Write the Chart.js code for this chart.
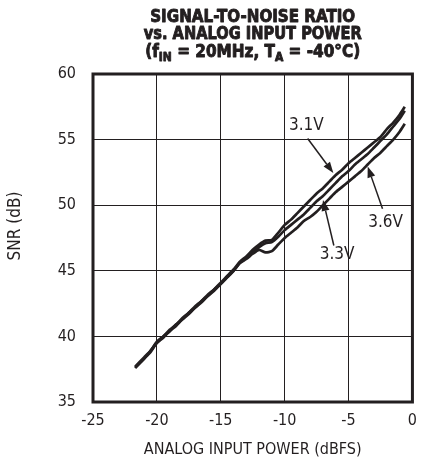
<!DOCTYPE html>
<html>
<head>
<meta charset="utf-8">
<script src="https://cdn.jsdelivr.net/npm/chart.js@4.4.1/dist/chart.umd.min.js"></script>
<style>
  html, body { margin: 0; padding: 0; background: #fff; }
  #snrChart { display: block; }
</style>
</head>
<body>
<canvas id="snrChart" width="426" height="464"></canvas>
<script>
// analog input power (dBFS), shared by all three curves
const inputPower = [-21.7, -21, -20.5, -20, -19.5, -19, -18.5, -18, -17.5, -17, -16.5, -16, -15.5, -15, -14.5,
  -14, -13.5, -13, -12.5, -12, -11.5, -11, -10.5, -10, -9.5, -9, -8.5, -8, -7.5, -7, -6.5, -6, -5.5, -5,
  -4.5, -4, -3.5, -3, -2.5, -2, -1.5, -1, -0.6];

// SNR (dB) per supply voltage
const snr31 = [37.7, 38.4, 38.9, 39.6, 40.0, 40.5, 40.9, 41.4, 41.8, 42.3, 42.7, 43.2, 43.6, 44.1, 44.6,
  45.1, 45.7, 46.1, 46.6, 47.0, 47.3, 47.35, 47.9, 48.5, 48.9, 49.4, 49.9, 50.4, 50.9, 51.3, 51.8, 52.3, 52.7, 53.2,
  53.6, 54.0, 54.4, 54.8, 55.2, 55.8, 56.3, 56.9, 57.5];
const snr33 = [37.6, 38.3, 38.9, 39.5, 40.0, 40.4, 40.9, 41.3, 41.8, 42.2, 42.7, 43.1, 43.6, 44.0, 44.5,
  45.0, 45.6, 46.0, 46.4, 46.8, 47.1, 47.2, 47.6, 48.1, 48.5, 48.9, 49.3, 49.8, 50.3, 50.7, 51.2, 51.7, 52.2, 52.6,
  53.1, 53.5, 53.9, 54.4, 54.9, 55.4, 56.0, 56.6, 57.2];
const snr36 = [37.6, 38.3, 38.8, 39.5, 39.9, 40.4, 40.8, 41.3, 41.7, 42.2, 42.6, 43.1, 43.5, 44.0, 44.5,
  45.0, 45.6, 45.9, 46.3, 46.6, 46.4, 46.5, 47.0, 47.5, 47.9, 48.3, 48.8, 49.1, 49.5, 50.0, 50.5, 51.0, 51.4, 51.8,
  52.2, 52.6, 53.1, 53.6, 54.0, 54.5, 55.0, 55.6, 56.2];

const xTicks = [-25, -20, -15, -10, -5, 0];
const yTicks = [35, 40, 45, 50, 55, 60];

// curve labels with arrows, in data units: label centre, arrow tail, arrow tip
const curveLabels = ['3.1V', '3.3V', '3.6V'];
const labelSpots = [
  { t: [-8.3, 56.1], a: [-8.2, 55.08], b: [-6.19, 52.45] },
  { t: [-5.9, 46.25], a: [-6.15, 46.93], b: [-7.0, 50.4] },
  { t: [-2.1, 48.71], a: [-2.34, 49.73], b: [-3.5, 52.95] }
];

const ink = '#231f20';
const face = '"Liberation Sans Narrow", "DejaVu Sans Condensed", "Liberation Sans", sans-serif';

function toPoints(ys) {
  return ys.map(function(y, i) { return { x: inputPower[i], y: y } });
}

const decorPlugin = {
  id: 'decor',
  afterDatasetsDraw(chart) {
    const ctx = chart.ctx;
    const xs = chart.scales.x, ys = chart.scales.y;
    ctx.save();
    ctx.fillStyle = ink;
    ctx.strokeStyle = ink;
    ctx.font = '17px ' + face;
    ctx.textAlign = 'center';
    ctx.textBaseline = 'middle';
    labelSpots.forEach(function(s, i) {
      ctx.fillText(curveLabels[i], xs.getPixelForValue(s.t[0]), ys.getPixelForValue(s.t[1]));
      const x1 = xs.getPixelForValue(s.a[0]), y1 = ys.getPixelForValue(s.a[1]);
      const x2 = xs.getPixelForValue(s.b[0]), y2 = ys.getPixelForValue(s.b[1]);
      const ang = Math.atan2(y2 - y1, x2 - x1);
      const len = 11, half = 4;
      const bx = x2 - len * Math.cos(ang), by = y2 - len * Math.sin(ang);
      ctx.lineWidth = 1.5;
      ctx.beginPath();
      ctx.moveTo(x1, y1);
      ctx.lineTo(bx, by);
      ctx.stroke();
      ctx.beginPath();
      ctx.moveTo(x2, y2);
      ctx.lineTo(bx + half * Math.sin(ang), by - half * Math.cos(ang));
      ctx.lineTo(bx - half * Math.sin(ang), by + half * Math.cos(ang));
      ctx.closePath();
      ctx.fill();
    });
    ctx.restore();
  },
  afterDraw(chart) {
    const ctx = chart.ctx;
    const area = chart.chartArea;
    const cx = (area.left + area.right) / 2;
    ctx.save();
    // frame
    ctx.strokeStyle = ink;
    ctx.lineWidth = 3;
    ctx.strokeRect(area.left, area.top, area.right - area.left, area.bottom - area.top);

    // y axis title, sits a bit above centre as in the original
    ctx.fillStyle = ink;
    ctx.font = '17px ' + face;
    ctx.textAlign = 'center';
    ctx.textBaseline = 'middle';
    ctx.translate(16, 226);
    ctx.rotate(-Math.PI / 2);
    ctx.fillText('SNR (dB)', 0, 0);
    ctx.restore();

    // heavy three line title
    function runLine(runs, baseline, width) {
      ctx.save();
      ctx.fillStyle = ink;
      ctx.strokeStyle = ink;
      ctx.lineWidth = 0.9;
      ctx.lineJoin = 'round';
      ctx.textAlign = 'left';
      ctx.textBaseline = 'alphabetic';
      let total = 0;
      runs.forEach(function(r) {
        ctx.font = 'bold ' + (r.sub ? 13 : 18.5) + 'px ' + face;
        r.w = ctx.measureText(r.s).width;
        total += r.w;
      });
      ctx.translate(cx - width / 2, baseline);
      ctx.scale(width / total, 1);
      let x = 0;
      runs.forEach(function(r) {
        ctx.font = 'bold ' + (r.sub ? 13 : 18.5) + 'px ' + face;
        ctx.fillText(r.s, x, r.sub ? 4 : 0);
        ctx.strokeText(r.s, x, r.sub ? 4 : 0);
        x += r.w;
      });
      ctx.restore();
    }
    runLine([{ s: 'SIGNAL-TO-NOISE RATIO' }], 21.7, 205);
    runLine([{ s: 'vs. ANALOG INPUT POWER' }], 39.3, 218);
    runLine([
      { s: '(f' }, { s: 'IN', sub: true }, { s: ' = 20MHz, T' }, { s: 'A', sub: true }, { s: ' = -40\u00B0C)' }
    ], 57, 215);
  }
};

new Chart(document.getElementById('snrChart'), {
  type: 'line',
  data: {
    datasets: [
      { label: '3.1V', data: toPoints(snr31), borderColor: ink, borderWidth: 2.7, pointRadius: 0, tension: 0.2, fill: false },
      { label: '3.3V', data: toPoints(snr33), borderColor: ink, borderWidth: 2.7, pointRadius: 0, tension: 0.2, fill: false },
      { label: '3.6V', data: toPoints(snr36), borderColor: ink, borderWidth: 2.7, pointRadius: 0, tension: 0.2, fill: false }
    ]
  },
  options: {
    responsive: false,
    animation: false,
    devicePixelRatio: 1,
    layout: { padding: { top: 74, right: 9, left: 0, bottom: 0 } },
    plugins: {
      legend: { display: false },
      tooltip: { enabled: false }
    },
    scales: {
      x: {
        type: 'linear',
        min: -25,
        max: 0,
        afterFit: function(scale) { scale.height = 62 },
        afterBuildTicks: function(scale) { scale.ticks = xTicks.map(function(v) { return { value: v } }) },
        grid: { color: ink, lineWidth: 1, drawTicks: false },
        border: { display: false },
        ticks: { color: ink, padding: 9, font: { family: face, size: 16 }, maxRotation: 0 },
        title: {
          display: true,
          text: 'ANALOG INPUT POWER (dBFS)',
          color: ink,
          font: { family: face, size: 16 },
          padding: { top: 0, bottom: 5 }
        }
      },
      y: {
        min: 35,
        max: 60,
        afterFit: function(scale) { scale.width = 93 },
        afterBuildTicks: function(scale) { scale.ticks = yTicks.map(function(v) { return { value: v } }) },
        grid: { color: ink, lineWidth: 1, drawTicks: false },
        border: { display: false },
        ticks: { color: ink, padding: 17, font: { family: face, size: 16 } }
      }
    }
  },
  plugins: [decorPlugin]
});
</script>
</body>
</html>
